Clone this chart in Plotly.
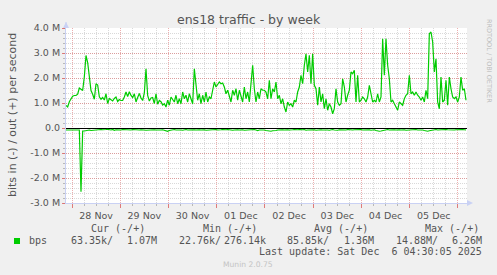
import plotly.graph_objects as go
import pandas as pd

# ---------------- data ----------------
series_start = "2025-11-27 21:00:00"
series_step = "2985s"
range_start = "2025-11-27 21:00:05"
range_end = "2025-12-06 04:30:05"

# outbound bits/s, in millions
out_M = [
    0.90, 0.84, 1.05, 1.18, 1.27, 1.30, 1.30, 1.35, 1.60, 1.55,
    1.50, 2.05, 2.90, 2.62, 1.95, 1.50, 1.35, 1.15, 1.77, 1.72,
    1.25, 1.15, 1.22, 1.12, 1.37, 0.98, 1.18, 1.12, 1.08, 1.18,
    1.24, 1.06, 1.14, 1.10, 1.10, 1.24, 1.44, 1.26, 1.45, 1.30,
    1.22, 1.37, 1.04, 1.22, 1.38, 1.20, 1.10, 1.40, 2.37, 1.30,
    1.08, 1.20, 1.22, 0.98, 1.37, 0.95, 1.10, 1.05, 0.92,
    0.97, 0.84, 1.11, 0.91, 1.24, 1.11, 1.04, 1.31, 0.97, 1.17,
    0.97, 1.44, 1.17, 1.31, 1.04, 1.37, 1.11, 0.97, 2.37, 1.57,
    1.11, 1.37, 0.97, 1.31, 1.04, 1.44, 1.04, 1.24, 1.17, 1.51,
    1.84, 1.64, 1.77, 1.84, 1.77, 1.80, 1.64, 1.37, 1.51, 1.24,
    1.04, 1.51, 1.31, 1.57, 1.11, 1.51, 1.24, 1.04, 1.64, 1.17,
    1.44, 1.04, 1.77, 2.51, 1.57, 1.04, 1.44, 1.17, 1.57, 1.51,
    1.51, 1.44, 1.17, 1.91, 1.17, 1.57, 1.44, 1.84, 1.17, 1.31,
    0.97, 1.17, 0.84, 0.64, 1.04, 0.91, 0.97, 0.84, 1.11, 1.04,
    1.44, 1.64, 2.11, 1.77, 2.51, 2.97, 2.24, 2.91, 1.77, 2.97,
    1.71, 1.57, 0.91, 1.64, 1.04, 1.37, 0.77, 1.17, 0.71, 0.97,
    0.84, 0.57, 0.77, 1.57, 1.04, 0.91, 0.97, 1.97, 1.64, 1.04,
    1.31, 1.51, 2.24, 2.17, 2.31, 1.04, 2.11, 1.04, 1.11, 1.24,
    1.17, 1.04, 1.24, 1.71, 1.37, 1.04, 1.11, 1.04, 1.37, 1.04,
    1.24, 3.57, 2.11, 3.57, 2.51, 1.97, 1.04, 1.11, 0.97, 0.84,
    0.71, 1.04, 0.97, 0.91, 1.17, 1.31, 1.37, 2.11, 1.37, 1.44,
    1.31, 1.44, 1.31, 1.24, 1.11, 1.24, 1.04, 1.51, 1.17, 3.77,
    3.84, 3.44, 2.24, 2.77, 1.04, 0.77, 2.04, 1.04, 1.11, 1.91,
    0.91, 2.04, 1.57, 1.24, 1.17, 1.24, 1.04, 1.24, 2.04, 1.51,
    1.57, 1.11,
]

# inbound bits/s, in millions (drawn negative, as munin does)
in_M = [
    0.08, 0.08, 0.08, 0.08, 0.08, 0.08, 0.08, 0.08, 0.08, 2.55, 0.12, 0.12, 0.10, 0.09, 0.08, 0.10, 0.09, 0.08, 0.07, 0.08,
    0.08, 0.06, 0.07, 0.08, 0.06, 0.05, 0.07, 0.08, 0.06, 0.09, 0.07, 0.08, 0.10, 0.08, 0.06, 0.07, 0.08, 0.07, 0.09, 0.08,
    0.06, 0.07, 0.08, 0.10, 0.08, 0.07, 0.06, 0.08, 0.09, 0.08, 0.07, 0.08, 0.06, 0.07, 0.08, 0.09, 0.10, 0.08, 0.07, 0.09,
    0.12, 0.13, 0.10, 0.08, 0.07, 0.06, 0.08, 0.07, 0.06, 0.08, 0.09, 0.07, 0.06, 0.08, 0.07, 0.06, 0.05, 0.07, 0.08, 0.06,
    0.07, 0.08, 0.06, 0.07, 0.09, 0.08, 0.07, 0.06, 0.08, 0.07, 0.06, 0.08, 0.09, 0.07, 0.06, 0.08, 0.07, 0.06, 0.08, 0.07,
    0.09, 0.08, 0.06, 0.07, 0.08, 0.06, 0.07, 0.09, 0.08, 0.07, 0.06, 0.08, 0.07, 0.06, 0.08, 0.10, 0.08, 0.07, 0.09, 0.08,
    0.10, 0.12, 0.14, 0.13, 0.11, 0.12, 0.10, 0.08, 0.07, 0.06, 0.07, 0.08, 0.06, 0.07, 0.08, 0.09, 0.07, 0.06, 0.08, 0.07,
    0.06, 0.08, 0.07, 0.06, 0.09, 0.08, 0.07, 0.06, 0.08, 0.07, 0.09, 0.08, 0.06, 0.07, 0.08, 0.07, 0.06, 0.08, 0.09, 0.07,
    0.06, 0.08, 0.10, 0.09, 0.07, 0.08, 0.06, 0.07, 0.08, 0.06, 0.07, 0.09, 0.08, 0.07, 0.06, 0.08, 0.07, 0.06, 0.08, 0.07,
    0.06, 0.08, 0.07, 0.09, 0.08, 0.07, 0.10, 0.12, 0.13, 0.12, 0.10, 0.08, 0.07, 0.06, 0.08, 0.07, 0.06, 0.07, 0.08, 0.06,
    0.07, 0.08, 0.06, 0.07, 0.09, 0.08, 0.07, 0.06, 0.08, 0.07, 0.06, 0.08, 0.07, 0.09, 0.08, 0.10, 0.12, 0.13, 0.11, 0.09,
    0.08, 0.07, 0.06, 0.08, 0.07, 0.06, 0.08, 0.07, 0.06, 0.07, 0.08, 0.06, 0.07, 0.08, 0.07, 0.06, 0.08, 0.07, 0.06, 0.07,
    0.08,
]

y_tick_vals_M = [-3, -2, -1, 0, 1, 2, 3, 4]
y_tick_text = ["-3.0 M", "-2.0 M", "-1.0 M", "0.0", "1.0 M", "2.0 M", "3.0 M", "4.0 M"]

title_text = "ens18 traffic - by week"
y_title = "bits in (-) / out (+) per second"
legend_name = "bps"
legend_headers = ["Cur (-/+)", "Min (-/+)", "Avg (-/+)", "Max (-/+)"]
legend_in_vals = ["63.35k/", "22.76k/", "85.85k/", "14.88M/"]
legend_out_vals = ["1.07M", "276.14k", "1.36M", "6.26M"]
last_update = "Last update: Sat Dec  6 04:30:05 2025"
footer = "Munin 2.0.75"
side_text = "RRDTOOL / TOBI OETIKER"

# ---------------- figure ----------------
W, H = 497, 275
L, R, T, B = 66, 467, 28, 203


def px(x):
    return (x - L) / (R - L)


def py(y):
    return (B - y) / (B - T)


times = pd.date_range(start=series_start, periods=len(out_M), freq=series_step)
green = "#00CC00"
fontc = "#555555"
axisc = "#C9D1F4"
mgridc = "rgba(220,110,110,0.55)"
gridc = "rgba(170,170,170,0.45)"

fig = go.Figure()
fig.add_trace(go.Scatter(x=times, y=[-v * 1e6 for v in in_M], mode="lines",
                         line=dict(color=green, width=1.2), hoverinfo="skip"))
fig.add_trace(go.Scatter(x=times, y=[v * 1e6 for v in out_M], mode="lines",
                         line=dict(color=green, width=1.2), hoverinfo="skip"))

fig.update_layout(
    width=W, height=H,
    margin=dict(l=L, r=W - R, t=T, b=H - B, pad=0),
    paper_bgcolor="#F0F0F0",
    plot_bgcolor="#FFFFFF",
    showlegend=False,
    hovermode=False,
    font=dict(family="DejaVu Sans", color=fontc, size=9.5),
)

fig.update_xaxes(
    type="date",
    range=[range_start, range_end],
    tick0="2025-11-28", dtick=86400000,
    tickformat="%d %b", ticklabelmode="period",
    showgrid=True, gridcolor=mgridc, griddash="1px,1px", gridwidth=1,
    ticks="outside", ticklen=4, tickcolor="rgba(220,110,110,0.9)", tickwidth=1,
    showline=True, linecolor=axisc, linewidth=1,
    tickfont=dict(size=9.5, color=fontc, family="DejaVu Sans"),
    minor=dict(dtick=6 * 3600000, showgrid=True, gridcolor=gridc, griddash="1px,1px",
               ticks="outside", ticklen=2, tickcolor="rgba(170,170,170,0.8)"),
    fixedrange=True,
)
fig.update_yaxes(
    range=[-3e6, 4e6],
    tickvals=[v * 1e6 for v in y_tick_vals_M], ticktext=y_tick_text,
    showgrid=True, gridcolor=mgridc, griddash="1px,1px", gridwidth=1,
    ticks="outside", ticklen=3, tickcolor="rgba(220,110,110,0.9)",
    showline=True, linecolor=axisc, linewidth=1,
    zeroline=True, zerolinecolor="#000000", zerolinewidth=1.2,
    tickfont=dict(size=9.5, color=fontc, family="DejaVu Sans"),
    minor=dict(dtick=0.2e6, showgrid=True, gridcolor=gridc, griddash="1px,1px",
               ticks="outside", ticklen=2, tickcolor="rgba(170,170,170,0.8)"),
    fixedrange=True,
)

# axis arrows
fig.add_shape(type="path", xref="paper", yref="paper", xsizemode="pixel", ysizemode="pixel",
              xanchor=0, yanchor=1, path="M -3 0 L 3 0 L 0 6 Z",
              fillcolor=axisc, line=dict(width=0))
fig.add_shape(type="line", xref="paper", yref="paper", x0=0, x1=0, y0=1, y1=py(22),
              line=dict(color=axisc, width=1))
fig.add_shape(type="path", xref="paper", yref="paper", xsizemode="pixel", ysizemode="pixel",
              xanchor=1, yanchor=0, path="M 0 3 L 0 -3 L 6 0 Z",
              fillcolor=axisc, line=dict(width=0))

anns = []


def txt(x, y, s, size, color=fontc, family="DejaVu Sans", xanchor="center", angle=0):
    anns.append(dict(x=px(x), y=py(y), xref="paper", yref="paper", text=s, showarrow=False,
                     xanchor=xanchor, yanchor="middle", textangle=angle,
                     font=dict(size=size, color=color, family=family)))


txt(249, 19.5, title_text, 12.5)
txt(12, 115, y_title, 11, angle=-90)
txt(489, 61, side_text, 6.5, color="#BDBDBD", angle=90)

mono = "DejaVu Sans Mono"
for s, x in zip(legend_headers, [89, 201, 312, 423]):
    txt(x - 0.5, 228.5, s, 10, family=mono, xanchor="left")
txt(26.5, 240, legend_name, 10, family=mono, xanchor="left")
for s, x in zip(legend_in_vals, [114.5, 222.5, 330.5, 439.5]):
    txt(x, 240, s, 10, family=mono, xanchor="right")
for s, x in zip(legend_out_vals, [158.5, 267.5, 375.5, 483.5]):
    txt(x, 240, s, 10, family=mono, xanchor="right")
txt(483.5, 251.5, last_update, 10, family=mono, xanchor="right")
txt(248, 264.5, footer, 7.6, color="#C4C4C4")

fig.update_layout(annotations=anns)
fig.add_shape(type="rect", xref="paper", yref="paper", x0=px(14), x1=px(20), y0=py(244), y1=py(238),
              fillcolor=green, line=dict(width=0))

fig.write_html("out.html", config={"displayModeBar": False})
